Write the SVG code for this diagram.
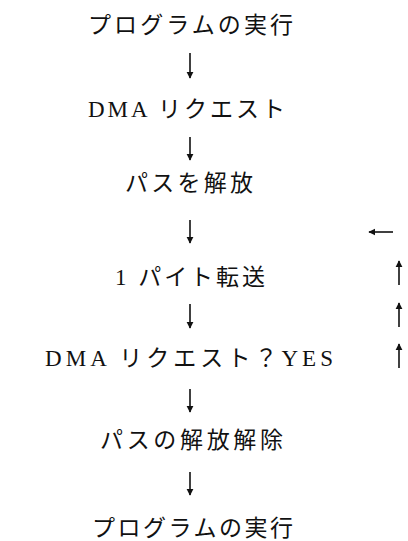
<svg xmlns="http://www.w3.org/2000/svg" width="408" height="541" viewBox="0 0 408 541">
<style>
.t{font-family:"Liberation Serif","Noto Sans CJK JP",serif;font-size:23px;fill:#111;}
.c{stroke:#111;stroke-width:1.6;fill:none;marker-end:url(#ah);}
</style>
<defs>
<marker id="ah" viewBox="0 0 10 10" refX="9" refY="5" markerWidth="4.5" markerHeight="4.5" orient="auto" markerUnits="strokeWidth">
<path d="M0,0 L10,5 L0,10 Z" fill="#111"/>
</marker>
</defs>
<rect width="408" height="541" fill="#fff"/>
<g id="n1"><text class="t" x="88" y="33" textLength="205" lengthAdjust="spacing">プログラムの実行</text></g>
<g id="n2"><text class="t" x="88" y="117" textLength="197" lengthAdjust="spacing">DMA リクエスト</text></g>
<g id="n3"><text class="t" x="125" y="191" textLength="128" lengthAdjust="spacing">パスを解放</text></g>
<g id="n4"><text class="t" x="115" y="285" textLength="150" lengthAdjust="spacing">1 パイト転送</text></g>
<g id="n5"><text class="t" x="45" y="366" textLength="288" lengthAdjust="spacing">DMA リクエスト？YES</text></g>
<g id="n6"><text class="t" x="100" y="448" textLength="183" lengthAdjust="spacing">パスの解放解除</text></g>
<g id="n7"><text class="t" x="92" y="536" textLength="201" lengthAdjust="spacing">プログラムの実行</text></g>
<g id="connectors">
<line class="c" x1="190" y1="53" x2="190" y2="78"/>
<line class="c" x1="190" y1="137" x2="190" y2="160"/>
<line class="c" x1="190" y1="220" x2="190" y2="243"/>
<line class="c" x1="190" y1="304" x2="190" y2="328"/>
<line class="c" x1="190" y1="389" x2="190" y2="412"/>
<line class="c" x1="190" y1="472" x2="190" y2="495"/>
<line class="c" x1="393" y1="232" x2="369" y2="232"/>
<line class="c" x1="399" y1="285" x2="399" y2="261"/>
<line class="c" x1="399" y1="327" x2="399" y2="303"/>
<line class="c" x1="399" y1="368" x2="399" y2="344"/>
</g>
</svg>
